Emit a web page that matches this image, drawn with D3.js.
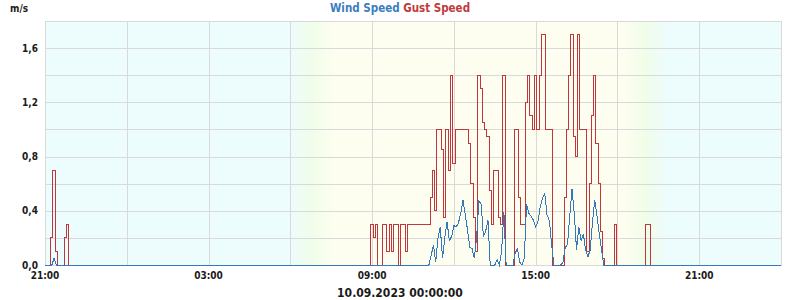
<!doctype html>
<html>
<head>
    <meta charset="UTF-8">
    <title>Wind Speed Gust Speed</title>
    <script src="https://cdn.jsdelivr.net/npm/d3@7"></script>
    <style>
        body { margin: 0; background: #fff; }
        text { font-family: "DejaVu Sans Condensed", "DejaVu Sans", sans-serif; font-weight: bold; }
        .lbl { font-size: 10px; fill: #1a1a1a; }
        .grid line { stroke: #d9d9d9; shape-rendering: crispEdges; }
        .grid path { display: none; }
    </style>
</head>
<body>
<script>
    // 5 minute values, 09.09.2023 21:00 .. 11.09.2023 00:00, one row per hour
    var gust = [
        0, 0, 0, 0.2, 0.7, 0.1, 0, 0, 0, 0.2, 0.3, 0,          // 21
        0, 0, 0, 0, 0, 0, 0, 0, 0, 0, 0, 0,                    // 22
        0, 0, 0, 0, 0, 0, 0, 0, 0, 0, 0, 0,                    // 23
        0, 0, 0, 0, 0, 0, 0, 0, 0, 0, 0, 0,                    // 00
        0, 0, 0, 0, 0, 0, 0, 0, 0, 0, 0, 0,                    // 01
        0, 0, 0, 0, 0, 0, 0, 0, 0, 0, 0, 0,                    // 02
        0, 0, 0, 0, 0, 0, 0, 0, 0, 0, 0, 0,                    // 03
        0, 0, 0, 0, 0, 0, 0, 0, 0, 0, 0, 0,                    // 04
        0, 0, 0, 0, 0, 0, 0, 0, 0, 0, 0, 0,                    // 05
        0, 0, 0, 0, 0, 0, 0, 0, 0, 0, 0, 0,                    // 06
        0, 0, 0, 0, 0, 0, 0, 0, 0, 0, 0, 0,                    // 07
        0, 0, 0, 0, 0, 0, 0, 0, 0, 0, 0, 0,                    // 08
        0.3, 0.2, 0.3, 0, 0, 0.3, 0.3, 0.1, 0.3, 0.1, 0.3, 0.3, // 09
        0, 0.3, 0.3, 0.1, 0.3, 0.3, 0.3, 0.3, 0.3, 0.3, 0.3, 0.3, // 10
        0.3, 0.3, 0.5, 0.7, 0.4, 1.0, 1.0, 0.85, 0.35, 1.0, 0.7, 1.4, // 11
        0.75, 1.0, 1.0, 1.0, 1.0, 1.0, 1.0, 0.9, 0.6, 0.35, 0.1, 1.4, // 12
        1.3, 1.05, 1.0, 0.95, 0.55, 0.3, 0.7, 0.7, 0.35, 0.3, 1.4, 0, // 13
        0, 0, 0, 1.0, 1.0, 0.5, 0.3, 0.3, 1.2, 1.4, 1.1, 1.0,   // 14
        1.4, 1.0, 1.4, 1.7, 1.7, 1.0, 1.0, 1.0, 0, 0, 0, 0,     // 15
        0, 0.5, 1.0, 1.4, 1.7, 0.95, 0.8, 1.7, 1.0, 1.0, 1.0, 0.1, // 16
        0.6, 1.1, 1.4, 0.9, 0.6, 0.25, 0.05, 0, 0, 0, 0, 0.3,  // 17
        0, 0, 0, 0, 0, 0, 0, 0, 0, 0, 0, 0,                    // 18
        0, 0.3, 0.3, 0, 0, 0, 0, 0, 0, 0, 0, 0,                // 19
        0, 0, 0, 0, 0, 0, 0, 0, 0, 0, 0, 0,                    // 20
        0, 0, 0, 0, 0, 0, 0, 0, 0, 0, 0, 0,                    // 21
        0, 0, 0, 0, 0, 0, 0, 0, 0, 0, 0, 0,                    // 22
        0, 0, 0, 0, 0, 0, 0, 0, 0, 0, 0, 0,                    // 23
        0
    ];
    var wind = [
        0, 0, 0, 0, 0.05, 0, 0, 0, 0, 0, 0, 0,                 // 21
        0, 0, 0, 0, 0, 0, 0, 0, 0, 0, 0, 0,                    // 22
        0, 0, 0, 0, 0, 0, 0, 0, 0, 0, 0, 0,                    // 23
        0, 0, 0, 0, 0, 0, 0, 0, 0, 0, 0, 0,                    // 00
        0, 0, 0, 0, 0, 0, 0, 0, 0, 0, 0, 0,                    // 01
        0, 0, 0, 0, 0, 0, 0, 0, 0, 0, 0, 0,                    // 02
        0, 0, 0, 0, 0, 0, 0, 0, 0, 0, 0, 0,                    // 03
        0, 0, 0, 0, 0, 0, 0, 0, 0, 0, 0, 0,                    // 04
        0, 0, 0, 0, 0, 0, 0, 0, 0, 0, 0, 0,                    // 05
        0, 0, 0, 0, 0, 0, 0, 0, 0, 0, 0, 0,                    // 06
        0, 0, 0, 0, 0, 0, 0, 0, 0, 0, 0, 0,                    // 07
        0, 0, 0, 0, 0, 0, 0, 0, 0, 0, 0, 0,                    // 08
        0, 0, 0, 0, 0, 0, 0, 0, 0, 0, 0, 0,                    // 09
        0, 0, 0, 0, 0, 0, 0, 0, 0, 0, 0, 0,                    // 10
        0, 0, 0.07, 0.15, 0.02, 0.2, 0.28, 0.05, 0.2, 0.32, 0.18, 0.21, // 11
        0.29, 0.28, 0.31, 0.38, 0.48, 0.37, 0.26, 0.13, 0.12, 0.05, 0.2, 0.47, // 12
        0.45, 0.21, 0.25, 0.33, 0, 0, 0, 0.04, 0, 0.1, 0.39, 0, // 13
        0, 0, 0, 0.09, 0.12, 0.02, 0, 0.05, 0.45, 0.38, 0.36, 0.33, // 14
        0.28, 0.32, 0.43, 0.49, 0.53, 0.37, 0.33, 0.16, 0, 0, 0, 0, // 15
        0.02, 0.13, 0.15, 0.36, 0.56, 0.38, 0.11, 0.28, 0.18, 0.23, 0.11, 0.06, // 16
        0.11, 0.31, 0.48, 0.36, 0.23, 0.11, 0, 0, 0, 0, 0, 0,  // 17
        0, 0, 0, 0, 0, 0, 0, 0, 0, 0, 0, 0,                    // 18
        0, 0, 0, 0, 0, 0, 0, 0, 0, 0, 0, 0,                    // 19
        0, 0, 0, 0, 0, 0, 0, 0, 0, 0, 0, 0,                    // 20
        0, 0, 0, 0, 0, 0, 0, 0, 0, 0, 0, 0,                    // 21
        0, 0, 0, 0, 0, 0, 0, 0, 0, 0, 0, 0,                    // 22
        0, 0, 0, 0, 0, 0, 0, 0, 0, 0, 0, 0,                    // 23
        0
    ];

    var start = new Date(2023, 8, 9, 21, 0),
        end = new Date(2023, 8, 11, 0, 0),
        stepMinutes = 5;

    var yLabels = [0, 0.4, 0.8, 1.2, 1.6];
    var yGridValues = [0.2, 0.4, 0.6, 0.8, 1.0, 1.2, 1.4, 1.6];
    var xLabelHours = [0, 6, 12, 18, 24];        // hours after start
    var dayTimes = { dawnStart: 6, dawnEnd: 7.6, duskStart: 18.2, duskEnd: 19.8 }; // clock hours on 10.09

    var title = [{ text: "Wind Speed", color: "#3b7dbf" }, { text: "Gust Speed", color: "#c03a3e" }];
    var dateLabel = "10.09.2023 00:00:00";

    var W = 800, H = 300;
    var margin = { left: 45, right: 19, top: 21, bottom: 35 };
    var width = W - margin.left - margin.right,
        height = H - margin.top - margin.bottom;

    var svg = d3.select("body").append("svg")
        .attr("width", W)
        .attr("height", H);

    var x = d3.scaleTime().domain([start, end]).range([0, width]);
    var y = d3.scaleLinear().domain([0, 1.8]).range([height, 0]);

    var g = svg.append("g")
        .attr("transform", "translate(" + margin.left + "," + margin.top + ")");

    // day / night background
    var day = new Date(2023, 8, 10);
    function at(h) { return x(new Date(day.getTime() + h * 3600000)) / width; }
    var nightC = "#edfcfc", greenC = "#f0fde9", dayC = "#fefef0";
    var grad = svg.append("defs").append("linearGradient")
        .attr("id", "bg").attr("x1", 0).attr("x2", 1).attr("y1", 0).attr("y2", 0);
    var stops = [
        [0, nightC],
        [at(dayTimes.dawnStart), nightC],
        [(at(dayTimes.dawnStart) + at(dayTimes.dawnEnd)) / 2, greenC],
        [at(dayTimes.dawnEnd), dayC],
        [at(dayTimes.duskStart), dayC],
        [(at(dayTimes.duskStart) + at(dayTimes.duskEnd)) / 2, greenC],
        [at(dayTimes.duskEnd), nightC],
        [1, nightC]
    ];
    grad.selectAll("stop").data(stops).enter().append("stop")
        .attr("offset", function (d) { return d[0]; })
        .attr("stop-color", function (d) { return d[1]; });

    g.append("rect")
        .attr("width", width).attr("height", height)
        .attr("fill", "url(#bg)");

    // grid
    g.append("g").attr("class", "grid")
        .attr("transform", "translate(0," + height + ")")
        .call(d3.axisBottom(x).ticks(d3.timeHour.every(3)).tickSize(-height).tickFormat(""));
    g.append("g").attr("class", "grid")
        .call(d3.axisLeft(y).tickValues(yGridValues).tickSize(-width).tickFormat(""));
    g.append("rect")
        .attr("width", width).attr("height", height)
        .attr("fill", "none").attr("stroke", "#d9d9d9")
        .style("shape-rendering", "crispEdges");

    // series
    var times = gust.map(function (d, i) { return new Date(start.getTime() + i * stepMinutes * 60000); });
    function lineOf(curve) {
        return d3.line()
            .x(function (d, i) { return x(times[i]); })
            .y(function (d) { return y(d); })
            .curve(curve);
    }

    g.append("path").datum(gust)
        .attr("d", lineOf(d3.curveStep))
        .attr("fill", "none")
        .attr("stroke", "#c0363b")
        .attr("stroke-width", 1)
        .style("shape-rendering", "crispEdges");
    g.append("path").datum(wind)
        .attr("d", lineOf(d3.curveLinear))
        .attr("fill", "none")
        .attr("stroke", "#3579bd")
        .attr("stroke-width", 1)
        .style("shape-rendering", "crispEdges");

    // y labels
    var fmt = d3.formatLocale({ decimal: ",", thousands: ".", grouping: [3], currency: ["", ""] }).format(".1f");
    g.selectAll(".ylab").data(yLabels).enter().append("text")
        .attr("class", "lbl")
        .attr("x", -7)
        .attr("y", function (d) { return y(d) + 3.5; })
        .attr("text-anchor", "end")
        .text(fmt);

    // x labels
    var tf = d3.timeFormat("%H:%M");
    g.selectAll(".xlab").data(xLabelHours).enter().append("text")
        .attr("class", "lbl")
        .attr("x", function (d) { return x(d3.timeHour.offset(start, d)); })
        .attr("y", height + 14)
        .attr("text-anchor", "middle")
        .text(function (d) { return tf(d3.timeHour.offset(start, d)); });

    svg.append("text")
        .attr("x", W / 2)
        .attr("y", 297)
        .attr("text-anchor", "middle")
        .style("font-size", "12px")
        .style("fill", "#1a1a1a")
        .text(dateLabel);

    svg.append("text")
        .attr("class", "lbl")
        .attr("x", 10)
        .attr("y", 12)
        .text("m/s");

    var t = svg.append("text")
        .attr("x", W / 2)
        .attr("y", 12)
        .attr("text-anchor", "middle")
        .style("font-size", "11.5px");
    title.forEach(function (d, i) {
        t.append("tspan").attr("fill", d.color).text((i ? " " : "") + d.text);
    });
</script>
</body>
</html>
